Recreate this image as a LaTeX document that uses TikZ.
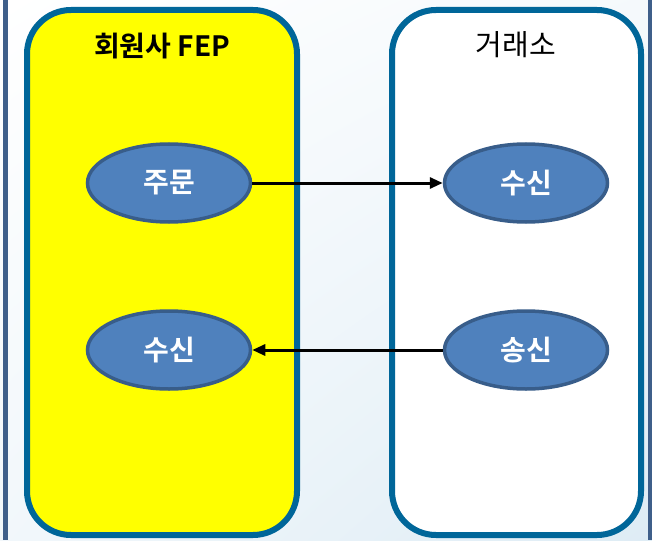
\documentclass[tikz,border=0pt]{standalone}
\usepackage{fontspec}
\setmainfont{Noto Sans CJK KR}[BoldFont={Noto Sans CJK KR Bold}]
\usetikzlibrary{shapes.geometric,arrows.meta,shadings}
\definecolor{boxblue}{RGB}{0,102,153}
\definecolor{ovalfill}{RGB}{79,129,189}
\definecolor{ovaldraw}{RGB}{56,93,138}
\definecolor{edgeblue}{RGB}{63,95,138}
\definecolor{bgblue}{RGB}{222,236,245}
\definecolor{sideyellow}{RGB}{255,255,0}

\begin{document}
\begin{tikzpicture}[x=1pt,y=-1pt,
  side/.style={draw=boxblue,line width=6pt,rounded corners=44pt},
  proc/.style={ellipse,draw=ovaldraw,fill=ovalfill,line width=3.5pt,
    minimum width=163pt,minimum height=78pt,text=white,font=\fontsize{28}{32}\bfseries},
  msg/.style={-{Triangle[length=13pt,width=11pt]},line width=3pt}]
  \useasboundingbox (0,0) rectangle (652,540);
  \shade[upper left=white,upper right=white!70!bgblue,lower left=white!60!bgblue,lower right=bgblue]
    (0,0) rectangle (652,540);
  \fill[edgeblue] (3,0) rectangle (8,540);
  \fill[edgeblue] (648,0) rectangle (652,540);
  % member side and exchange side
  \draw[side,fill=sideyellow] (27,10) rectangle (297,535);
  \draw[side,fill=white] (392,10) rectangle (641,535);
  \node[font=\fontsize{28}{32}\bfseries] (member) at (162,46) {회원사 FEP};
  \node[font=\fontsize{29}{33}\selectfont] (exchange) at (516,45) {거래소};
  \node[proc] (order) at (169,183) {주문};
  \node[proc] (mrecv) at (169,350) {수신};
  \node[proc] (xrecv) at (526,183) {수신};
  \node[proc] (xsend) at (526,350) {송신};
  \path[msg]
    (order) edge node {} (xrecv)
    (xsend) edge node {} (mrecv);
\end{tikzpicture}
\end{document}
